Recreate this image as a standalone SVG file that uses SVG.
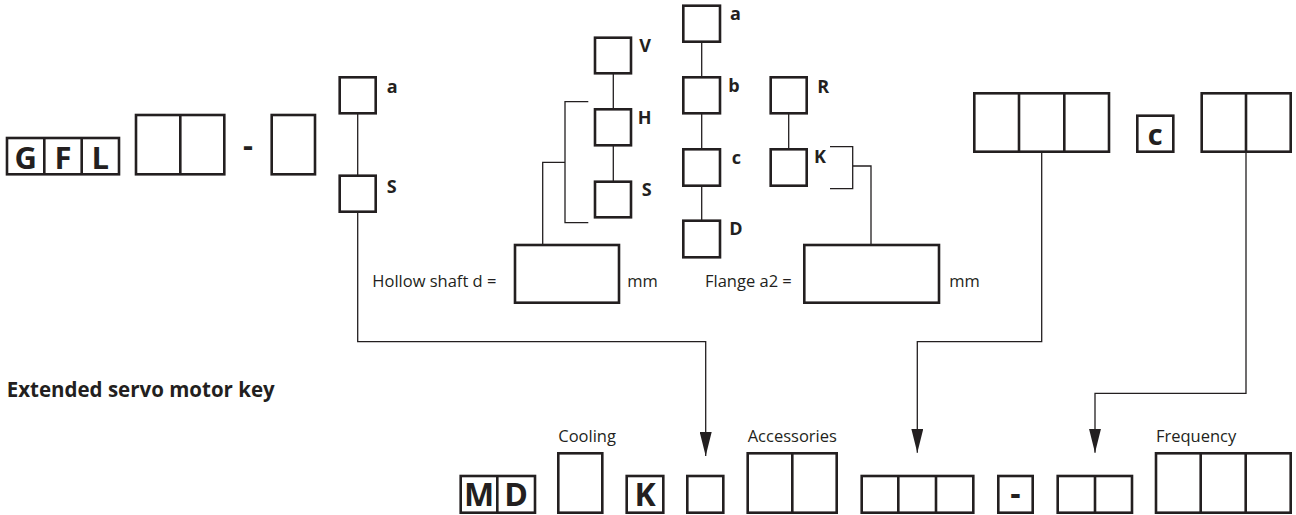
<svg xmlns="http://www.w3.org/2000/svg" width="1296" height="515" viewBox="0 0 1296 515">
<defs>
<style>
.b{fill:#fff;stroke:#231f20;stroke-width:2.6}
.d{stroke:#231f20;stroke-width:2.6;fill:none}
.t{stroke:#231f20;stroke-width:1.3;fill:none}
.big{font-family:"Open Sans","Liberation Sans",sans-serif;font-weight:700;font-size:31px;fill:#231f20;text-anchor:middle}
.lbl{font-family:"Open Sans","Liberation Sans",sans-serif;font-weight:700;font-size:18px;fill:#231f20}
.txt{font-family:"Open Sans","Liberation Sans",sans-serif;font-size:16.5px;fill:#231f20}
.ttl{font-family:"Open Sans","Liberation Sans",sans-serif;font-weight:700;font-size:20.5px;fill:#231f20}
</style>
<marker id="ah" viewBox="0 0 24 12" refX="24" refY="6" markerWidth="24" markerHeight="12" markerUnits="userSpaceOnUse" orient="auto">
<path d="M0,0 L24,6 L0,12 Z" fill="#231f20"/>
</marker>
</defs>
<rect width="1296" height="515" fill="#fff"/>

<g id="connectors">
<path class="t" d="M357.7,113.3 V175.7"/>
<path class="t" d="M613.3,73.3 V109.3 M613.3,145.3 V181.7"/>
<path class="t" d="M701.7,41.7 V77.3 M701.7,113.3 V149.3 M701.7,185.7 V220.7"/>
<path class="t" d="M788.7,113.3 V149.3"/>
<path class="t" d="M588.3,101.7 H565 V222.7 H588.3 M565,162.3 H542.7 V245"/>
<path class="t" d="M830,146.7 H852.7 V188.7 H830 M852.7,166 H871 V245"/>
<path class="t" d="M357.7,211.7 V341.7 H705.7 V456" marker-end="url(#ah)"/>
<path class="t" d="M1041.7,151.7 V341.7 H917.3 V452.7" marker-end="url(#ah)"/>
<path class="t" d="M1246,151.7 V393.3 H1095 V452.7" marker-end="url(#ah)"/>
</g>

<g id="gfl">
<rect class="b" x="7" y="138" width="112" height="36.3"/>
<path class="d" d="M44.3,138 V174.3 M81.7,138 V174.3"/>
<text class="big" x="25.7" y="169">G</text>
<text class="big" x="63" y="169">F</text>
<text class="big" x="100.3" y="169">L</text>
</g>
<g id="top-two"><rect class="b" x="136" y="115" width="88.3" height="59.3"/><path class="d" d="M180.3,115 V174.3"/></g>
<g id="top-dash"><text class="big" x="248" y="156">-</text></g>
<g id="top-single"><rect class="b" x="271.7" y="115" width="43.3" height="59.3"/></g>
<g id="node-a1"><rect class="b" x="339.7" y="77.3" width="36" height="36"/><text class="lbl" x="386.7" y="93.3">a</text></g>
<g id="node-s1"><rect class="b" x="339.7" y="175.7" width="36" height="36"/><text class="lbl" x="386.7" y="192.7">S</text></g>

<g id="node-v"><rect class="b" x="595" y="37.7" width="36" height="35.6"/><text class="lbl" x="639.3" y="52.3">V</text></g>
<g id="node-h"><rect class="b" x="595" y="109.3" width="36" height="36"/><text class="lbl" x="637.7" y="124">H</text></g>
<g id="node-s2"><rect class="b" x="595" y="181.7" width="36" height="35.6"/><text class="lbl" x="641.7" y="196">S</text></g>

<g id="node-a2"><rect class="b" x="683.3" y="5.7" width="36.7" height="36"/><text class="lbl" x="730" y="20">a</text></g>
<g id="node-b"><rect class="b" x="683.3" y="77.3" width="36.7" height="36"/><text class="lbl" x="728.3" y="91.7">b</text></g>
<g id="node-c"><rect class="b" x="683.3" y="149.3" width="36.7" height="36.4"/><text class="lbl" x="731.7" y="164">c</text></g>
<g id="node-d"><rect class="b" x="683.3" y="220.7" width="36.7" height="36.6"/><text class="lbl" x="729.3" y="235">D</text></g>

<g id="node-r"><rect class="b" x="770.7" y="77.3" width="36" height="36"/><text class="lbl" x="817.3" y="92.7">R</text></g>
<g id="node-k"><rect class="b" x="770.7" y="149.3" width="36" height="36.4"/><text class="lbl" x="814" y="163.3">K</text></g>

<g id="hollow"><text class="txt" x="372.3" y="286.7">Hollow shaft d =</text><rect class="b" x="515" y="245" width="104" height="57.7"/><text class="txt" x="627.3" y="286.7">mm</text></g>
<g id="flange"><text class="txt" x="705" y="286.7">Flange a2 =</text><rect class="b" x="804.3" y="245" width="134.7" height="57.7"/><text class="txt" x="949.3" y="286.7">mm</text></g>

<g id="top-three"><rect class="b" x="974.3" y="93.3" width="134.7" height="58.4"/><path class="d" d="M1019,93.3 V151.7 M1064.3,93.3 V151.7"/></g>
<g id="top-c"><rect class="b" x="1137.3" y="115.7" width="36" height="36"/><text class="big" x="1155.3" y="145" style="font-size:29px">c</text></g>
<g id="top-two-right"><rect class="b" x="1201.7" y="93.3" width="89" height="58.4"/><path class="d" d="M1246,93.3 V151.7"/></g>

<g id="title"><text class="ttl" x="6.7" y="396.7">Extended servo motor key</text></g>

<g id="md"><rect class="b" x="460.7" y="476" width="74.3" height="36.7"/><path class="d" d="M497.3,476 V512.7"/><text class="big" x="479" y="506" style="font-size:32px">M</text><text class="big" x="516.2" y="506" style="font-size:32px">D</text></g>
<g id="cooling"><text class="txt" x="558.3" y="441.7">Cooling</text><rect class="b" x="558.3" y="453.3" width="44" height="59.4"/></g>
<g id="bottom-k"><rect class="b" x="626.7" y="476" width="36.6" height="36.7"/><text class="big" x="645" y="506" style="font-size:32px">K</text></g>
<g id="bottom-single"><rect class="b" x="687.3" y="476" width="36" height="36.7"/></g>
<g id="accessories"><text class="txt" x="747.7" y="441.7">Accessories</text><rect class="b" x="747.7" y="453.3" width="89" height="59.4"/><path class="d" d="M792.3,453.3 V512.7"/></g>
<g id="bottom-three"><rect class="b" x="861.7" y="476" width="111.6" height="36.7"/><path class="d" d="M898.3,476 V512.7 M936,476 V512.7"/></g>
<g id="bottom-dash"><rect class="b" x="998.3" y="476" width="34.4" height="36.7"/><text class="big" x="1015.5" y="505" style="font-size:32px">-</text></g>
<g id="bottom-two"><rect class="b" x="1057.7" y="476" width="74.3" height="36.7"/><path class="d" d="M1095,476 V512.7"/></g>
<g id="frequency"><text class="txt" x="1156" y="441.7">Frequency</text><rect class="b" x="1156" y="453.3" width="134.7" height="59.4"/><path class="d" d="M1200.7,453.3 V512.7 M1245.7,453.3 V512.7"/></g>
</svg>
